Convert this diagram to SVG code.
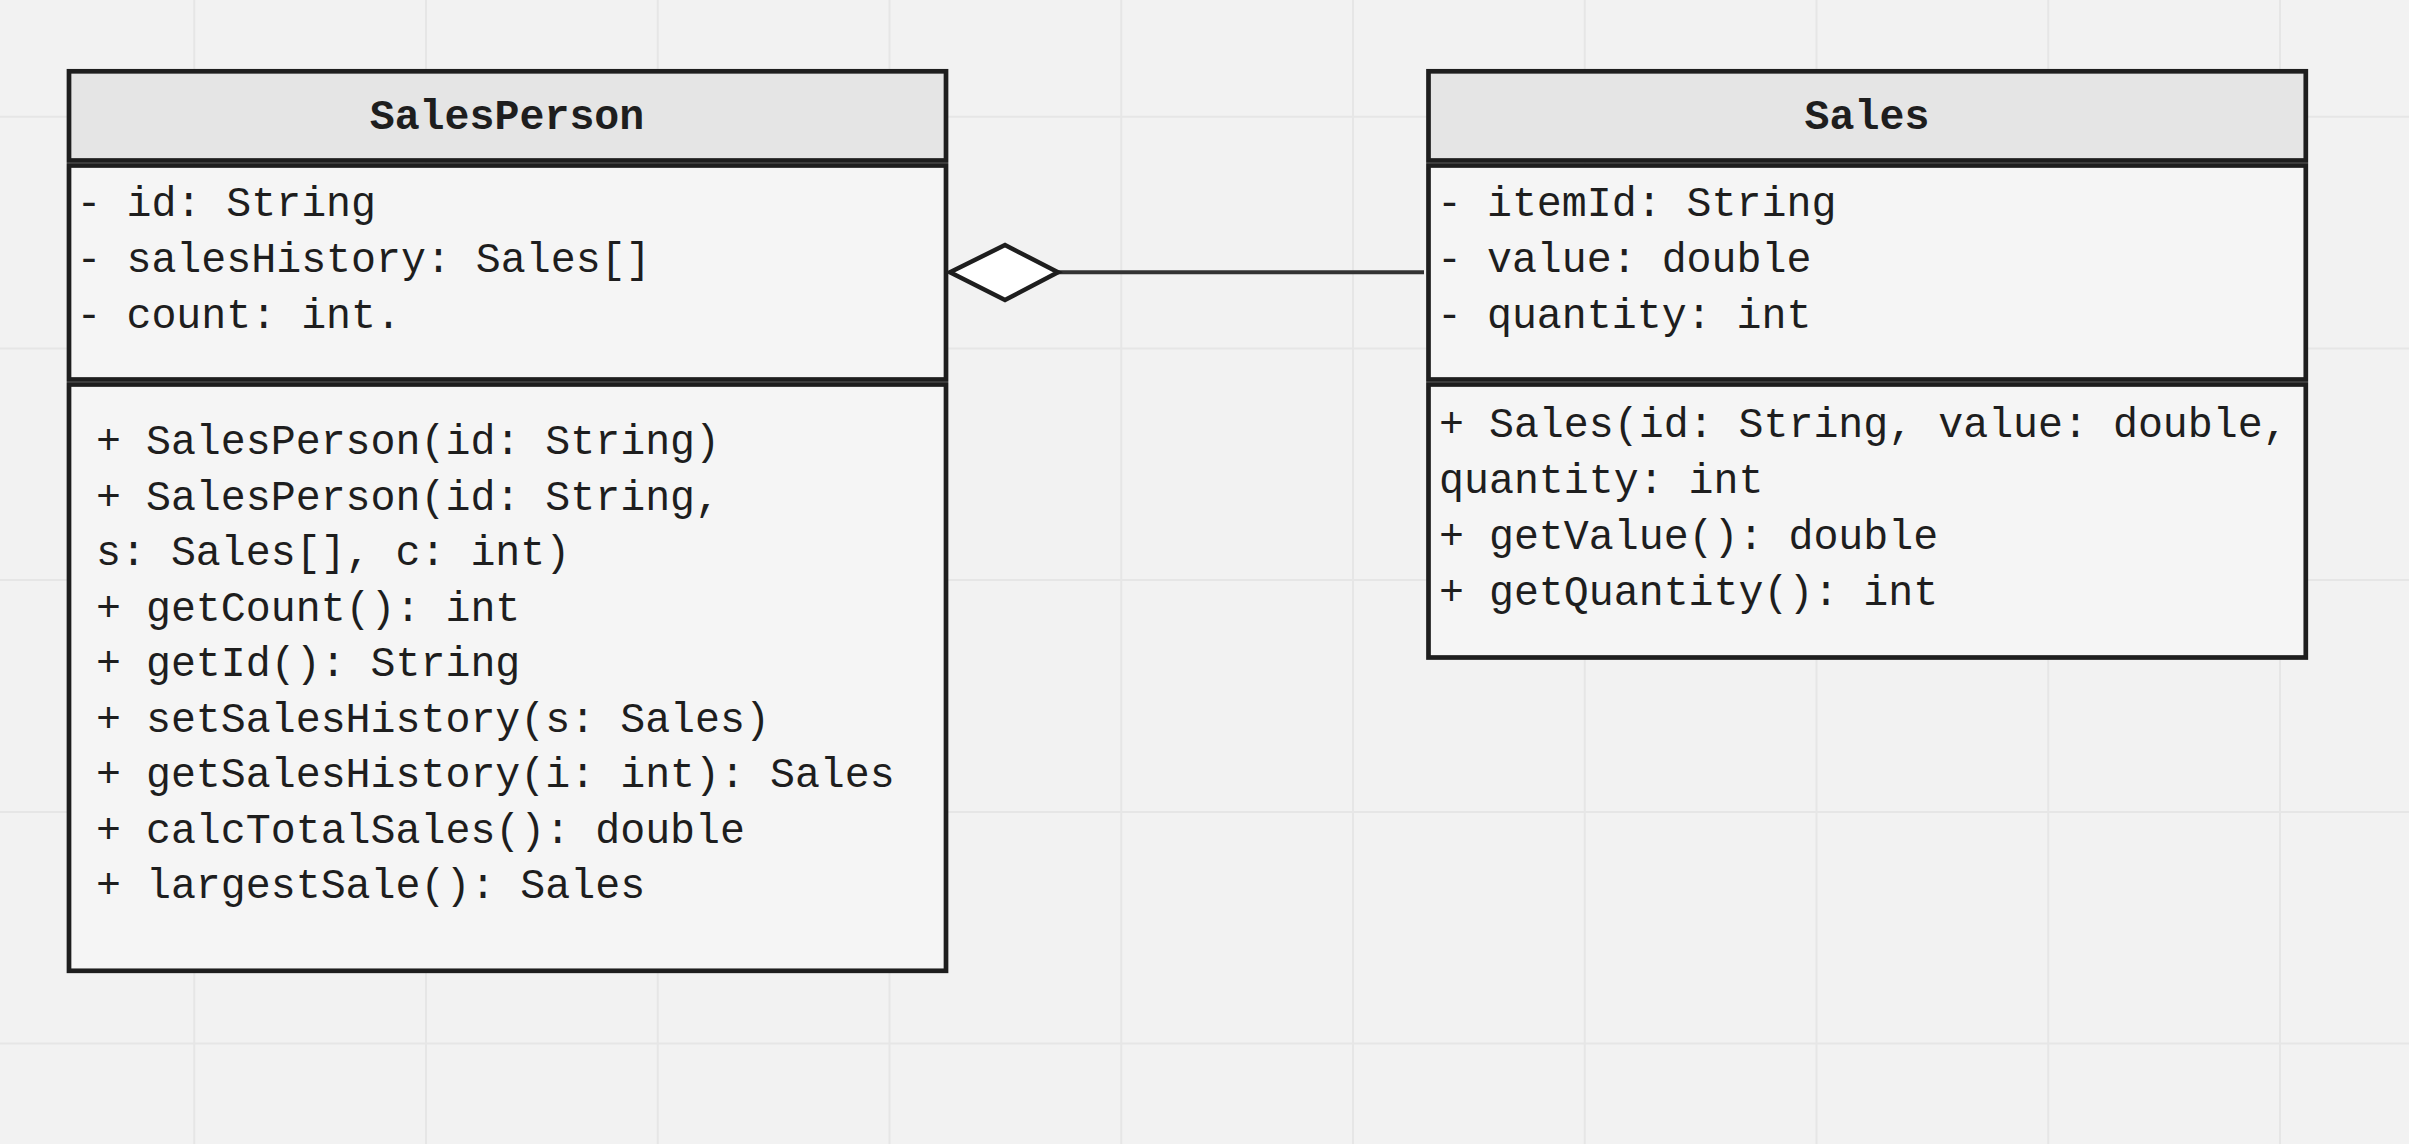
<svg xmlns="http://www.w3.org/2000/svg" width="2409" height="1144" viewBox="0 0 2409 1144">
<style>
.bg{fill:#f2f2f2}
.grid line{stroke:#e6e6e6;stroke-width:2}
.hdr{fill:#e5e5e5;stroke:#1e1e1e;stroke-width:4.7}
.body{fill:#f5f5f5;stroke:#1e1e1e;stroke-width:4.7}
.t{font-family:"Liberation Mono","DejaVu Sans Mono",monospace;font-size:41.6px;fill:#1e1e1e}
.title{font-family:"Liberation Mono","DejaVu Sans Mono",monospace;font-size:41.6px;font-weight:bold;fill:#1e1e1e;text-anchor:middle}
.conn{stroke:#333333;stroke-width:4;fill:none}
.diamond{fill:#ffffff;stroke:#1e1e1e;stroke-width:4.5;stroke-linejoin:miter}
</style>
<rect class="bg" x="0" y="0" width="2409" height="1144"/>
<g class="grid">
<line x1="194.25" y1="0" x2="194.25" y2="1144"/>
<line x1="426" y1="0" x2="426" y2="1144"/>
<line x1="657.75" y1="0" x2="657.75" y2="1144"/>
<line x1="889.5" y1="0" x2="889.5" y2="1144"/>
<line x1="1121.25" y1="0" x2="1121.25" y2="1144"/>
<line x1="1353" y1="0" x2="1353" y2="1144"/>
<line x1="1584.75" y1="0" x2="1584.75" y2="1144"/>
<line x1="1816.5" y1="0" x2="1816.5" y2="1144"/>
<line x1="2048.25" y1="0" x2="2048.25" y2="1144"/>
<line x1="2280" y1="0" x2="2280" y2="1144"/>
<line x1="0" y1="116.7" x2="2409" y2="116.7"/>
<line x1="0" y1="348.4" x2="2409" y2="348.4"/>
<line x1="0" y1="580" x2="2409" y2="580"/>
<line x1="0" y1="811.9" x2="2409" y2="811.9"/>
<line x1="0" y1="1043.6" x2="2409" y2="1043.6"/>
</g>
<g id="connectors">
<line class="conn" x1="1058" y1="272.3" x2="1424" y2="272.3"/>
<polygon class="diamond" points="950,272.3 1005,245 1058,272.3 1005,300"/>
</g>
<g id="SalesPerson">
<rect class="hdr" x="69" y="71.3" width="877" height="89.2"/>
<rect class="body" x="69" y="165.5" width="877" height="214"/>
<rect class="body" x="69" y="384.5" width="877" height="586.3"/>
<text class="title" x="507" y="129">SalesPerson</text>
<text class="t" x="76.5" y="216">- id: String</text>
<text class="t" x="76.5" y="272">- salesHistory: Sales[]</text>
<text class="t" x="76.5" y="328">- count: int.</text>
<text class="t" x="96" y="454">+ SalesPerson(id: String)</text>
<text class="t" x="96" y="509.5">+ SalesPerson(id: String,</text>
<text class="t" x="96" y="565">s: Sales[], c: int)</text>
<text class="t" x="96" y="620.5">+ getCount(): int</text>
<text class="t" x="96" y="676">+ getId(): String</text>
<text class="t" x="96" y="731.5">+ setSalesHistory(s: Sales)</text>
<text class="t" x="96" y="787">+ getSalesHistory(i: int): Sales</text>
<text class="t" x="96" y="842.5">+ calcTotalSales(): double</text>
<text class="t" x="96" y="898">+ largestSale(): Sales</text>
</g>
<g id="Sales">
<rect class="hdr" x="1428.5" y="71.3" width="877.3" height="89.2"/>
<rect class="body" x="1428.5" y="165.5" width="877.3" height="214"/>
<rect class="body" x="1428.5" y="384.5" width="877.3" height="273"/>
<text class="title" x="1867" y="129">Sales</text>
<text class="t" x="1437" y="216">- itemId: String</text>
<text class="t" x="1437" y="272">- value: double</text>
<text class="t" x="1437" y="328">- quantity: int</text>
<text class="t" x="1439" y="437">+ Sales(id: String, value: double,</text>
<text class="t" x="1439" y="493">quantity: int</text>
<text class="t" x="1439" y="548.5">+ getValue(): double</text>
<text class="t" x="1439" y="604.5">+ getQuantity(): int</text>
</g>
</svg>
